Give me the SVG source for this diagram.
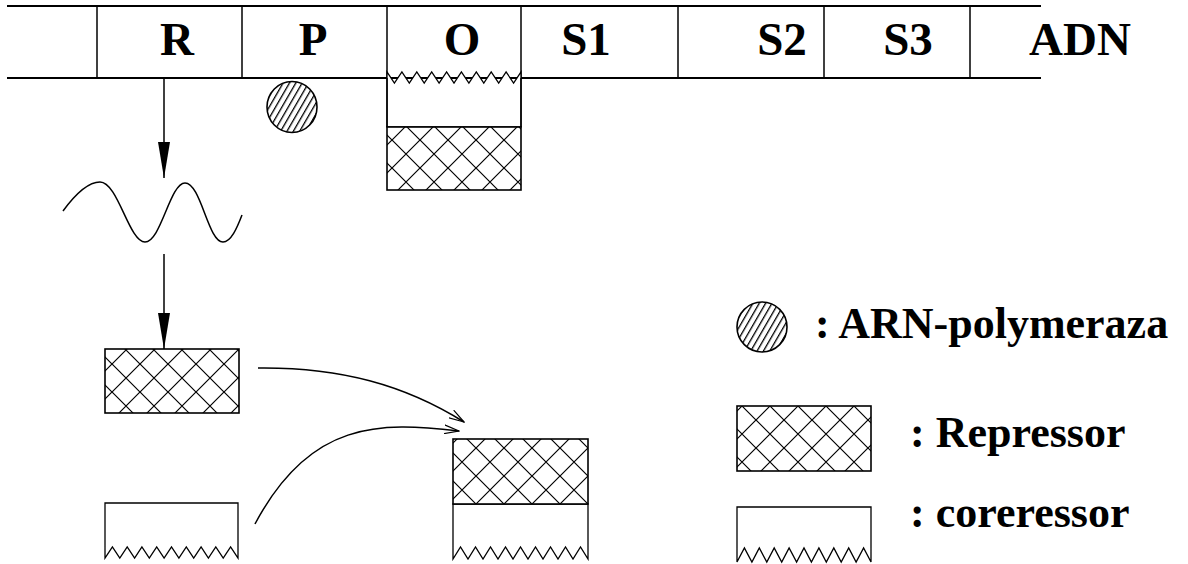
<svg xmlns="http://www.w3.org/2000/svg" width="1188" height="564" viewBox="0 0 1188 564">
  <style>
    .ln { fill: none; stroke: #000; stroke-width: 1.5; }
    .bar { fill: none; stroke: #000; stroke-width: 2; }
    .cell { font-family: 'Liberation Serif', 'DejaVu Serif', serif; font-weight: bold; font-size: 47px; text-anchor: middle; fill: #000; }
    .leg { font-family: 'Liberation Serif', 'DejaVu Serif', serif; font-weight: bold; font-size: 44px; fill: #000; }
    .rep { fill: url(#cross); stroke: #000; stroke-width: 1.6; }
    .core { fill: #fff; stroke: #000; stroke-width: 1.3; }
    .pol { fill: url(#hatch); stroke: #000; stroke-width: 1.6; }
  </style>
  <defs>
    <!-- diamond cross-hatch used for the repressor -->
    <pattern id="cross" patternUnits="userSpaceOnUse" width="28" height="28">
      <rect width="28" height="28" fill="#fff"/>
      <path d="M0,0 L28,28 M28,0 L0,28" stroke="#000" stroke-width="1.2" fill="none"/>
    </pattern>
    <!-- slanted hatch used for the polymerase -->
    <pattern id="hatch" patternUnits="userSpaceOnUse" width="5.5" height="40" patternTransform="rotate(30)">
      <rect width="5.5" height="40" fill="#fff"/>
      <rect x="0" y="0" width="1.3" height="40" fill="#000"/>
    </pattern>
    <marker id="solid" viewBox="0 0 36 12" refX="36" refY="6" markerWidth="36" markerHeight="12" markerUnits="userSpaceOnUse" orient="auto">
      <path d="M0,0 L36,6 L0,12 Z" fill="#000"/>
    </marker>
    <marker id="open" viewBox="0 0 16 10" refX="15" refY="5" markerWidth="16" markerHeight="10" markerUnits="userSpaceOnUse" orient="auto">
      <path d="M0,0.5 L15,5 L0,9.5" fill="none" stroke="#000" stroke-width="1.2"/>
    </marker>
  </defs>

  <!-- DNA strip with its segments -->
  <g id="adn">
    <line class="bar" x1="7" y1="6" x2="1041" y2="6"/>
    <line class="bar" x1="7" y1="78" x2="1041" y2="78"/>
    <line class="ln" x1="97" y1="6" x2="97" y2="78"/>
    <line class="ln" x1="242" y1="6" x2="242" y2="78"/>
    <line class="ln" x1="387" y1="6" x2="387" y2="78"/>
    <line class="ln" x1="521" y1="6" x2="521" y2="78"/>
    <line class="ln" x1="678" y1="6" x2="678" y2="78"/>
    <line class="ln" x1="824" y1="6" x2="824" y2="78"/>
    <line class="ln" x1="970" y1="6" x2="970" y2="78"/>
    <text class="cell" x="177" y="55">R</text>
    <text class="cell" x="313" y="55">P</text>
    <text class="cell" x="462" y="55">O</text>
    <text class="cell" x="586" y="55">S1</text>
    <text class="cell" x="782" y="55">S2</text>
    <text class="cell" x="908" y="55">S3</text>
    <text class="cell" x="1080" y="55">ADN</text>
  </g>

  <!-- polymerase sitting next to the promoter -->
  <g id="polymeraza">
    <ellipse class="pol" cx="292" cy="107" rx="25" ry="25.5"/>
  </g>

  <!-- repressor + corepressor bound on the operator -->
  <g id="operator-complex">
    <path class="core" d="M387,127 L387,72 L394.4,83 L401.9,72 L409.3,83 L416.8,72 L424.2,83 L431.7,72 L439.1,83 L446.6,72 L454,83 L461.4,72 L468.9,83 L476.3,72 L483.8,83 L491.2,72 L498.7,83 L506.1,72 L513.6,83 L521,72 L521,127 Z"/>
    <rect class="rep" x="387" y="127" width="134" height="63"/>
    <line class="ln" x1="387" y1="78" x2="387" y2="127"/>
    <line class="ln" x1="521" y1="78" x2="521" y2="127"/>
  </g>

  <!-- messenger RNA -->
  <g id="arnm">
    <path class="ln" d="M63,211 C74,196 87,182 100,182 C118,182 129,242 145,242 C161,242 170,183 185,183 C201,183 208,242 223,242 C231,242 237,228 242,215"/>
  </g>

  <!-- free repressor -->
  <g id="repressor">
    <rect class="rep" x="105" y="349" width="134" height="64" stroke-width="2.2"/>
  </g>

  <!-- free corepressor -->
  <g id="coreressor">
    <path class="core" d="M105,558 L105,503 L238,503 L238,558 L230.6,547 L223.2,558 L215.8,547 L208.4,558 L201.1,547 L193.7,558 L186.3,547 L178.9,558 L171.5,547 L164.1,558 L156.7,547 L149.3,558 L141.9,547 L134.6,558 L127.2,547 L119.8,558 L112.4,547 Z"/>
  </g>

  <!-- repressor joined with corepressor -->
  <g id="complex">
    <path class="core" d="M453,559 L453,504 L588,504 L588,559 L580.5,547 L573,559 L565.5,547 L558,559 L550.5,547 L543,559 L535.5,547 L528,559 L520.5,547 L513,559 L505.5,547 L498,559 L490.5,547 L483,559 L475.5,547 L468,559 L460.5,547 Z"/>
    <rect class="rep" x="453" y="439" width="135" height="65"/>
  </g>

  <!-- legend -->
  <g id="legend-polymeraza">
    <circle class="pol" cx="762" cy="327" r="25"/>
    <text class="leg" x="815" y="338">: ARN-polymeraza</text>
  </g>
  <g id="legend-repressor">
    <rect class="rep" x="737" y="406" width="134" height="65"/>
    <text class="leg" x="910" y="447">: Repressor</text>
  </g>
  <g id="legend-coreressor">
    <path class="core" d="M737,562 L737,507 L871,507 L871,562 L863.6,548 L856.1,562 L848.7,548 L841.2,562 L833.8,548 L826.3,562 L818.9,548 L811.4,562 L804,548 L796.6,562 L789.1,548 L781.7,562 L774.2,548 L766.8,562 L759.3,548 L751.9,562 L744.4,548 Z"/>
    <text class="leg" x="910" y="527">: coreressor</text>
  </g>

  <!-- connectors -->
  <g id="connectors">
    <line class="ln" x1="164" y1="78" x2="164" y2="178" marker-end="url(#solid)"/>
    <line class="ln" x1="164" y1="254" x2="164" y2="349" marker-end="url(#solid)"/>
    <path class="ln" d="M258,368 C340,367 405,385 464,422" marker-end="url(#open)"/>
    <path class="ln" d="M255,524 C310,420 380,422 459,431" marker-end="url(#open)"/>
  </g>
</svg>
